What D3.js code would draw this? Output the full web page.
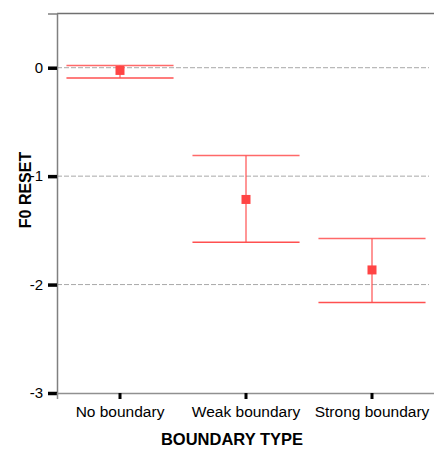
<!DOCTYPE html>
<html>
<head>
<meta charset="utf-8">
<script src="https://cdn.jsdelivr.net/npm/d3@7"></script>
<style>
  body { margin: 0; background: #fff; }
  svg text { font-family: Arial, "Liberation Sans", sans-serif; }
</style>
</head>
<body>
<div id="chart"></div>
<script>
// F0 reset by boundary type: mean with error bars
const categories = ["No boundary", "Weak boundary", "Strong boundary"];
const means = [-0.025, -1.215, -1.865];
const upper = [0.02, -0.81, -1.575];
const lower = [-0.095, -1.61, -2.165];
const yTicks = [0, -1, -2, -3];

const data = categories.map((c, i) => ({ cat: c, mean: means[i], hi: upper[i], lo: lower[i] }));

const W = 434, H = 449;
const margin = { top: 13.5, right: 0, bottom: 56, left: 57 };
const width = 378, height = H - margin.top - margin.bottom;
const red = "#ff5050";

const svg = d3.select("#chart").append("svg")
  .attr("width", W).attr("height", H);
const g = svg.append("g").attr("transform", `translate(${margin.left},${margin.top})`);

const x = d3.scaleBand().domain(categories).range([0, width]);
const y = d3.scaleLinear().domain([-3, 0.5]).range([height, 0]);

// gridlines
g.append("g").selectAll("line")
  .data(yTicks.filter(t => t > -3))
  .join("line")
  .attr("x1", 0).attr("x2", 372)
  .attr("y1", d => y(d)).attr("y2", d => y(d))
  .attr("stroke", "#a8a8a8")
  .attr("stroke-dasharray", "5,2");

// frame: top line
g.append("line").attr("x1", 0).attr("x2", W).attr("y1", 0).attr("y2", 0)
  .attr("stroke", "#707070").attr("stroke-width", 1.5);

// axes
const yAxisG = g.append("g")
  .call(d3.axisLeft(y).tickValues(yTicks).tickSize(9).tickPadding(5).tickFormat(d => String(d)));
yAxisG.select(".domain").attr("stroke", "#808080").attr("stroke-width", 1.5);
yAxisG.selectAll(".tick line").attr("stroke", "#000").attr("stroke-width", 3.5);
yAxisG.selectAll(".tick text").style("font-size", "15px").attr("fill", "#000");

const xAxisG = g.append("g")
  .attr("transform", `translate(0,${height})`)
  .call(d3.axisBottom(x).tickSize(6).tickPadding(7));
xAxisG.select(".domain").attr("stroke", "#909090").attr("stroke-width", 1.5);
xAxisG.selectAll(".tick line").attr("stroke", "#000").attr("stroke-width", 3);
xAxisG.selectAll(".tick text").style("font-size", "15.5px").attr("fill", "#000");

// error bars
const capW = x.bandwidth() * 0.85;
const bars = g.append("g").selectAll("g").data(data).join("g")
  .attr("transform", d => `translate(${x(d.cat) + x.bandwidth() / 2},0)`);

bars.append("line")
  .attr("x1", 0).attr("x2", 0)
  .attr("y1", d => y(d.hi)).attr("y2", d => y(d.lo))
  .attr("stroke", red).attr("stroke-width", 1.2);
bars.append("line")
  .attr("x1", -capW / 2).attr("x2", capW / 2)
  .attr("y1", d => y(d.hi)).attr("y2", d => y(d.hi))
  .attr("stroke", red).attr("stroke-width", 1.5).attr("opacity", 0.85);
bars.append("line")
  .attr("x1", -capW / 2).attr("x2", capW / 2)
  .attr("y1", d => y(d.lo)).attr("y2", d => y(d.lo))
  .attr("stroke", red).attr("stroke-width", 1.5);
bars.append("rect")
  .attr("x", -4.5).attr("y", d => y(d.mean) - 4.5)
  .attr("width", 9).attr("height", 9)
  .attr("fill", "#ff4444");

// axis titles
svg.append("text")
  .attr("transform", `translate(31,190) rotate(-90)`)
  .attr("text-anchor", "middle")
  .style("font-size", "16px").style("font-weight", "bold")
  .text("F0 RESET");

svg.append("text")
  .attr("x", 232).attr("y", 445)
  .attr("text-anchor", "middle")
  .style("font-size", "16.5px").style("font-weight", "bold")
  .text("BOUNDARY TYPE");
</script>
</body>
</html>
